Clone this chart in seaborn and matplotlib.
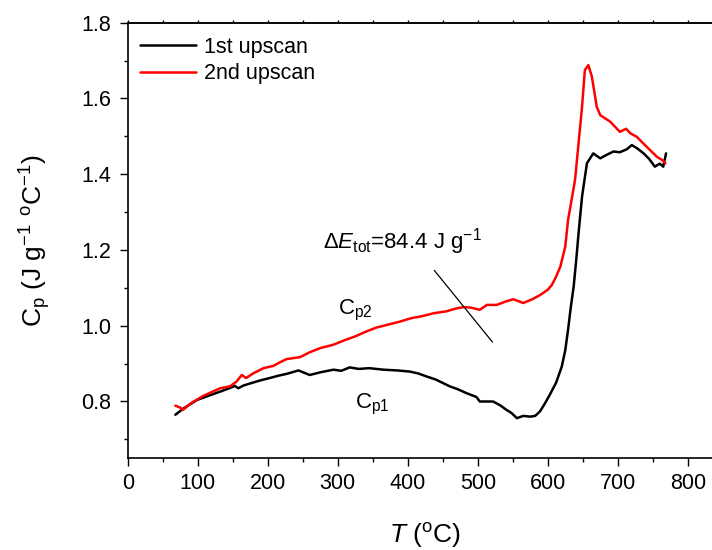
import matplotlib
import matplotlib.pyplot as plt
import pandas as pd
import seaborn as sns
from matplotlib.ticker import MultipleLocator

matplotlib.use("Agg")

# values
SCAN_LABELS = ["1st upscan", "2nd upscan"]

first_T = [68, 80, 99, 115, 132, 145, 153, 158, 165, 179, 190, 203, 215, 227, 244,
           252, 260, 275, 294, 305, 317, 330, 345, 365, 385, 403, 415, 427, 440, 460,
           472, 484, 498, 503, 513, 522, 532, 541, 548, 556, 565, 575, 582, 589, 596,
           603, 612, 620, 625, 629, 633, 637, 641, 644, 649, 656, 665, 675, 685, 694,
           703, 713, 720, 728, 737, 745, 753, 760, 765, 769]
first_Cp = [0.765, 0.782, 0.804, 0.815, 0.826, 0.835, 0.841, 0.835, 0.842, 0.850,
            0.856, 0.862, 0.868, 0.873, 0.882, 0.876, 0.870, 0.877, 0.884, 0.881,
            0.890, 0.886, 0.888, 0.884, 0.882, 0.879, 0.874, 0.866, 0.858, 0.840,
            0.832, 0.822, 0.812, 0.800, 0.800, 0.800, 0.790, 0.778, 0.770, 0.756,
            0.762, 0.760, 0.762, 0.774, 0.795, 0.818, 0.850, 0.892, 0.935, 0.989,
            1.050, 1.103, 1.180, 1.244, 1.341, 1.429, 1.455, 1.442, 1.452, 1.460,
            1.458, 1.466, 1.477, 1.468, 1.455, 1.440, 1.420, 1.428, 1.420, 1.455]

second_T = [68, 75, 79, 90, 108, 120, 132, 146, 155, 163, 169, 180, 194, 208, 218,
            227, 246, 260, 275, 294, 310, 325, 341, 355, 372, 389, 405, 420, 437, 455,
            468, 479, 490, 503, 513, 527, 540, 551, 565, 578, 589, 600, 606, 612, 618,
            625, 629, 639, 649, 653, 658, 663, 670, 675, 689, 703, 712, 718, 727, 741,
            756, 763, 768]
second_Cp = [0.789, 0.784, 0.778, 0.795, 0.815, 0.825, 0.835, 0.840, 0.852, 0.870,
             0.862, 0.875, 0.888, 0.894, 0.904, 0.912, 0.917, 0.930, 0.941, 0.950,
             0.962, 0.972, 0.985, 0.995, 1.003, 1.011, 1.020, 1.025, 1.033, 1.038,
             1.045, 1.049, 1.048, 1.042, 1.055, 1.055, 1.064, 1.070, 1.060, 1.070,
             1.081, 1.095, 1.108, 1.130, 1.156, 1.209, 1.279, 1.385, 1.578, 1.675,
             1.688, 1.658, 1.578, 1.556, 1.539, 1.512, 1.520, 1.508, 1.499, 1.473,
             1.446, 1.438, 1.429]

# annotation: slanted marker line (data coords)
marker_T = [438, 521]
marker_Cp = [1.146, 0.957]

sns.set_theme(style="ticks")
plt.rcParams["font.family"] = ["Liberation Sans", "DejaVu Sans"]
plt.rcParams["mathtext.fontset"] = "custom"
plt.rcParams["mathtext.rm"] = "Liberation Sans"
plt.rcParams["mathtext.it"] = "Liberation Sans:italic"
plt.rcParams["mathtext.bf"] = "Liberation Sans:bold"
plt.rcParams["text.color"] = "black"
plt.rcParams["axes.labelcolor"] = "black"
plt.rcParams["xtick.color"] = "black"
plt.rcParams["ytick.color"] = "black"

df = pd.concat([
    pd.DataFrame({"T": first_T, "Cp": first_Cp, "scan": SCAN_LABELS[0]}),
    pd.DataFrame({"T": second_T, "Cp": second_Cp, "scan": SCAN_LABELS[1]}),
], ignore_index=True)

fig = plt.figure(figsize=(7.12, 5.5), dpi=100)
ax = fig.add_axes([0.1794, 0.1667, 0.8357, 0.7920])

sns.lineplot(
    data=df, x="T", y="Cp", hue="scan", hue_order=SCAN_LABELS,
    palette={"1st upscan": "black", "2nd upscan": "#ff0000"},
    estimator=None, sort=False, linewidth=1.8, ax=ax,
)

ax.plot(marker_T, marker_Cp, color="black", linewidth=0.9)

ax.text(279, 1.205, r"$\Delta\mathit{E}_\mathregular{tot}$=84.4 J g$^\mathregular{-1}$",
        fontsize=16, ha="left", va="baseline")
ax.text(301, 1.029, r"C$_\mathregular{p2}$", fontsize=16, ha="left", va="baseline")
ax.text(324, 0.783, r"C$_\mathregular{p1}$", fontsize=16, ha="left", va="baseline")

ax.set_xlim(0, 850)
ax.set_ylim(0.65, 1.8)
ax.xaxis.set_major_locator(MultipleLocator(100))
ax.xaxis.set_minor_locator(MultipleLocator(50))
ax.yaxis.set_major_locator(MultipleLocator(0.2))
ax.yaxis.set_minor_locator(MultipleLocator(0.1))
ax.yaxis.set_major_formatter(matplotlib.ticker.FormatStrFormatter("%.1f"))

for side in ["left", "bottom", "top", "right"]:
    ax.spines[side].set_linewidth(1.2)
    ax.spines[side].set_color("black")

ax.tick_params(which="major", direction="out", length=5.8, width=1.0,
               labelsize=15.5, color="black", labelcolor="black")
ax.tick_params(which="minor", direction="out", length=3.0, width=1.0, color="black")
ax.tick_params(axis="x", pad=5)
ax.tick_params(axis="y", pad=6)

top = ax.secondary_xaxis("top")
top.xaxis.set_major_locator(MultipleLocator(50))
top.tick_params(direction="out", length=2.5, width=1.0, labeltop=False)
top.spines["top"].set_linewidth(1.2)

ax.set_xlabel(r"$\mathit{T}$ ($^\mathregular{o}$C)", fontsize=19)
ax.set_ylabel(r"C$_\mathregular{p}$ (J g$^\mathregular{-1}$ $^\mathregular{o}$C$^\mathregular{-1}$)",
              fontsize=19)
ax.xaxis.set_label_coords(0.5, -0.145)
ax.yaxis.set_label_coords(-0.126, 0.5)

handles, labels = ax.get_legend_handles_labels()
ax.legend(handles, labels, loc="upper left", bbox_to_anchor=(0.02, 0.968),
          frameon=False, fontsize=15.5, handlelength=2.6, handletextpad=0.4,
          labelspacing=0.25, borderpad=0, borderaxespad=0)

fig.savefig("out.png", dpi=100)
plt.close(fig)
